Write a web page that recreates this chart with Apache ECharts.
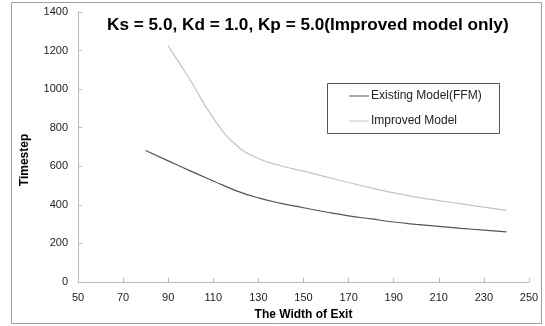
<!DOCTYPE html>
<html><head><meta charset="utf-8">
<script src="https://cdn.jsdelivr.net/npm/echarts@6/dist/echarts.min.js"></script>
<style>html,body{margin:0;padding:0;background:#fff}#c{width:545px;height:326px}</style>
</head><body><div id="c"></div>
<script>
const titleText = 'Ks = 5.0, Kd = 1.0, Kp = 5.0(Improved model only)';
const xAxisName = 'The Width of Exit';
const yAxisName = 'Timestep';
const seriesNames = ['Existing Model(FFM)', 'Improved Model'];
const existingX = [80, 90, 100, 110, 120, 130, 140, 150, 160, 170, 180, 190, 200, 210, 220, 230, 240];
const existingY = [682, 628, 575, 524, 474, 436, 408, 385, 363, 343, 327, 311, 299, 288, 278, 269, 260];
const improvedX = [90, 100, 110, 120, 130, 140, 150, 160, 170, 180, 190, 200, 210, 220, 230, 240];
const improvedY = [1224, 1042, 850, 712, 640, 603, 575, 545, 516, 488, 462, 440, 422, 405, 388, 371];
const xTicks = [50, 70, 90, 110, 130, 150, 170, 190, 210, 230, 250];
const yTicks = [0, 200, 400, 600, 800, 1000, 1200, 1400];

const font = '"Liberation Sans", Arial, sans-serif';
const chart = echarts.init(document.getElementById('c'), null, {renderer: 'canvas'});
chart.setOption({
  backgroundColor: '#fff',
  animation: false,
  textStyle: {fontFamily: font},
  title: {
    text: titleText, left: 102, top: 12,
    textStyle: {fontFamily: font, fontSize: 17.2, fontWeight: 'bold', color: '#000'}
  },
  grid: {left: 78, right: 16, top: 12, bottom: 40, containLabel: false},
  graphic: [
    {type: 'rect', shape: {x: 11.5, y: 2.5, width: 530, height: 321}, style: {fill: 'none', stroke: '#a0a0a0', lineWidth: 1}, silent: true, z: -1},
    {type: 'rect', shape: {x: 327.5, y: 83.5, width: 172, height: 50}, style: {fill: '#fff', stroke: '#555', lineWidth: 1}, silent: true, z: 0},
    {type: 'text', x: 25, y: 160, rotation: Math.PI / 2, silent: true, z: 5,
      style: {text: yAxisName, fontFamily: font, fontSize: 12, fontWeight: 'bold', fill: '#000', align: 'center', verticalAlign: 'middle'}}
  ],
  legend: {
    orient: 'vertical', left: 344, top: 85, itemGap: 13, itemWidth: 20, itemHeight: 1,
    icon: 'rect', z: 5,
    data: seriesNames,
    textStyle: {fontFamily: font, fontSize: 12, color: '#222', padding: [0, 0, 0, -3]}
  },
  xAxis: {
    type: 'value', min: 50, max: 250, interval: 20,
    name: xAxisName, nameLocation: 'middle', nameGap: 27,
    nameTextStyle: {fontFamily: font, fontSize: 12, fontWeight: 'bold', color: '#000'},
    axisLine: {lineStyle: {color: '#bbb', width: 1}},
    axisTick: {show: true, inside: true, length: 4, lineStyle: {color: '#bbb'}},
    splitLine: {show: false},
    axisLabel: {fontFamily: font, fontSize: 11, color: '#222', margin: 10,
      formatter: v => xTicks.includes(v) ? String(v) : ''}
  },
  yAxis: {
    type: 'value', min: 0, max: 1400, interval: 200,
    axisLine: {show: true, lineStyle: {color: '#bbb', width: 1}},
    axisTick: {show: true, inside: true, length: 4, lineStyle: {color: '#bbb'}},
    splitLine: {show: false},
    axisLabel: {fontFamily: font, fontSize: 11, color: '#222', margin: 10,
      formatter: v => yTicks.includes(v) ? String(v) : ''}
  },
  series: [
    {name: seriesNames[0], type: 'line', smooth: 0.5, symbol: 'none',
      lineStyle: {color: '#555', width: 1.2}, itemStyle: {color: '#555'},
      data: existingX.map((x, i) => [x, existingY[i]])},
    {name: seriesNames[1], type: 'line', smooth: 0.5, symbol: 'none',
      lineStyle: {color: '#c4c4c4', width: 1.2}, itemStyle: {color: '#c4c4c4'},
      data: improvedX.map((x, i) => [x, improvedY[i]])}
  ]
});
</script></body></html>
